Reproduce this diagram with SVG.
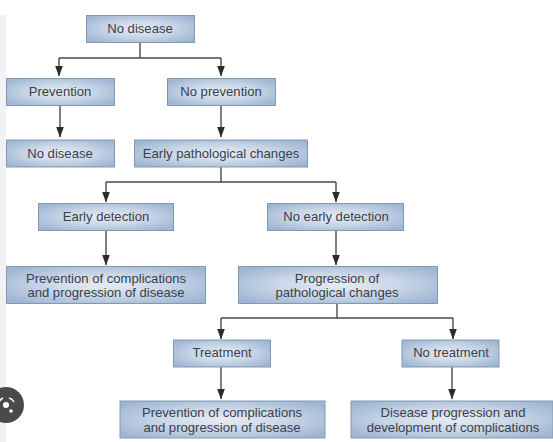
<svg xmlns="http://www.w3.org/2000/svg" width="553" height="442" viewBox="0 0 553 442">
<style>
.n{fill:url(#g);stroke:#8299b2;stroke-width:1}
.t{font-family:"Liberation Sans",Arial,sans-serif;font-size:13.1px;fill:#3a4048;text-anchor:middle}
.c{fill:none;stroke:#4a4a4a;stroke-width:1.400}
</style>
<defs>
<radialGradient id="g" cx="0.5" cy="0.5" r="0.62">
<stop offset="0" stop-color="#e6ecf4"/><stop offset="0.5" stop-color="#c9d6e7"/><stop offset="1" stop-color="#9fb6d3"/>
</radialGradient>
<marker id="a" markerUnits="userSpaceOnUse" markerWidth="11" markerHeight="9" refX="10.500" refY="4" orient="auto">
<path d="M0 0L11 4L0 8Z" fill="#2b2b2b"/>
</marker>
</defs>
<rect width="553" height="442" fill="#fff"/>
<rect x="0" y="15" width="6" height="427" fill="#f0f2f5"/>
<g id="connectors">
<path class="c" d="M140 42V58"/>
<path class="c" d="M59 58H221"/>
<path class="c" d="M59 58V76" marker-end="url(#a)"/>
<path class="c" d="M221 58V76" marker-end="url(#a)"/>
<path class="c" d="M60 105V137" marker-end="url(#a)"/>
<path class="c" d="M221 105V137" marker-end="url(#a)"/>
<path class="c" d="M221 167V182"/>
<path class="c" d="M106 182H336"/>
<path class="c" d="M106 182V202" marker-end="url(#a)"/>
<path class="c" d="M336 182V202" marker-end="url(#a)"/>
<path class="c" d="M106 231V265" marker-end="url(#a)"/>
<path class="c" d="M336 231V265" marker-end="url(#a)"/>
<path class="c" d="M337 304V318"/>
<path class="c" d="M221 318H453"/>
<path class="c" d="M221 318V339" marker-end="url(#a)"/>
<path class="c" d="M453 318V339" marker-end="url(#a)"/>
<path class="c" d="M221 367V399" marker-end="url(#a)"/>
<path class="c" d="M452 367V399" marker-end="url(#a)"/>
</g>
<g id="n1"><rect class="n" x="86.500" y="15.500" width="108" height="27"/><text class="t" x="140" y="33">No disease</text></g>
<g id="n2"><rect class="n" x="6.500" y="78.500" width="108" height="27"/><text class="t" x="60" y="96">Prevention</text></g>
<g id="n3"><rect class="n" x="167.500" y="78.500" width="108" height="27"/><text class="t" x="221" y="96">No prevention</text></g>
<g id="n4"><rect class="n" x="6.500" y="140" width="108" height="27"/><text class="t" x="60" y="157.500">No disease</text></g>
<g id="n5"><rect class="n" x="134.500" y="140" width="173" height="27"/><text class="t" x="221" y="158">Early pathological changes</text></g>
<g id="n6"><rect class="n" x="38.500" y="203.500" width="135" height="27"/><text class="t" x="106" y="221">Early detection</text></g>
<g id="n7"><rect class="n" x="267.500" y="203.500" width="136" height="27"/><text class="t" x="336" y="221">No early detection</text></g>
<g id="n8"><rect class="n" x="6.500" y="266.500" width="199" height="37"/><text class="t" x="106" y="283">Prevention of complications</text><text class="t" x="106" y="297">and progression of disease</text></g>
<g id="n9"><rect class="n" x="238.500" y="266.500" width="199" height="37"/><text class="t" x="337" y="283">Progression of</text><text class="t" x="337" y="297">pathological changes</text></g>
<g id="n10"><rect class="n" x="173.500" y="340" width="97" height="27"/><text class="t" x="222" y="357">Treatment</text></g>
<g id="n11"><rect class="n" x="402" y="340" width="97" height="27"/><text class="t" x="451" y="357">No treatment</text></g>
<g id="n12"><rect class="n" x="120" y="401" width="205" height="37"/><text class="t" x="222" y="417">Prevention of complications</text><text class="t" x="222" y="432">and progression of disease</text></g>
<g id="n13"><rect class="n" x="351" y="401" width="202" height="37"/><text class="t" x="453" y="417">Disease progression and</text><text class="t" x="453" y="432">development of complications</text></g>
<circle cx="6" cy="405" r="18" fill="#4a4a4a"/>
<circle cx="6" cy="405" r="3" fill="#fff"/>
<path d="M-1 402A8 8 0 0 1 3 398M9 398A8 8 0 0 1 14 402" fill="none" stroke="#fff" stroke-width="1.500"/>
<circle cx="11" cy="411" r="1.800" fill="#fff"/>
</svg>
